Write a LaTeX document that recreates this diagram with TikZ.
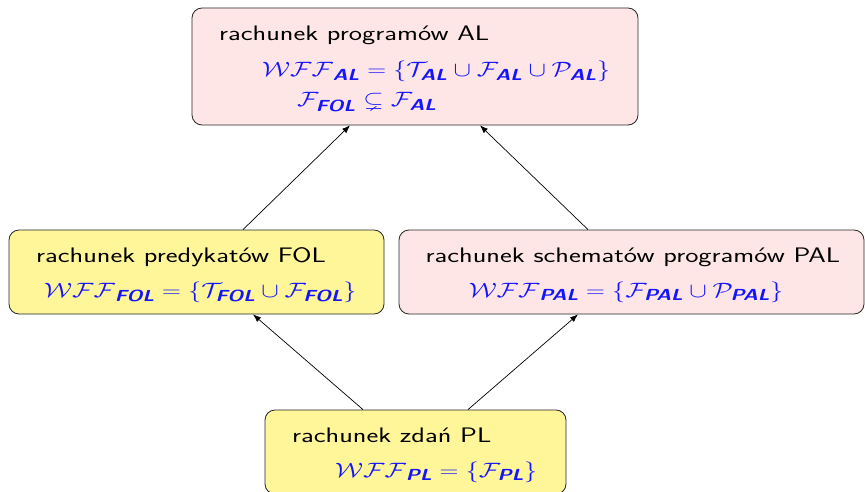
\documentclass[tikz,border=0pt]{standalone}
\usepackage{amsmath,amssymb}
\usepackage{graphicx}
\usetikzlibrary{arrows.meta}
\renewcommand{\familydefault}{\sfdefault}
\definecolor{pinkc}{RGB}{255,230,230}
\definecolor{yellc}{RGB}{255,246,153}
\definecolor{mathc}{RGB}{20,20,255}
\newcommand{\sbs}[1]{\mbox{\fontsize{16}{18}\selectfont\sffamily\bfseries\itshape #1}}
\newcommand{\hs}[1]{\scalebox{1.34}[1]{#1}}
\newcommand{\hm}[1]{\scalebox{1.26}[1]{#1}}
\tikzset{
  box/.style={draw=black!85, line width=0.8pt, rounded corners=10pt, inner sep=0pt},
  txt/.style={anchor=base west, inner sep=0pt, font=\fontsize{21}{25}\selectfont},
  mtxt/.style={anchor=base west, inner sep=0pt, text=mathc, font=\fontsize{20.74}{25}\selectfont},
  conn/.style={-{Latex[length=8pt,width=6pt]}, line width=0.7pt}
}
\begin{document}
\begin{tikzpicture}[x=1pt,y=-1pt]
\useasboundingbox (0,0) rectangle (865,492);
% boxes
\node[box, fill=pinkc, minimum width=446, minimum height=117] (al) at (415,66.5) {};
\node[box, fill=yellc, minimum width=375, minimum height=84] (fol) at (196.5,272) {};
\node[box, fill=pinkc, minimum width=465, minimum height=84] (pal) at (631.5,272) {};
\node[box, fill=yellc, minimum width=301, minimum height=84] (pl) at (415.5,452) {};
% texts
\node[txt] (al1) at (219,41) {\hs{rachunek programów AL}};
\node[mtxt] (al2) at (262,77) {\hm{$\mathcal{WFF}_{\sbs{AL}}=\{\mathcal{T}_{\sbs{AL}}\cup\mathcal{F}_{\sbs{AL}}\cup\mathcal{P}_{\sbs{AL}}\}$}};
\node[mtxt] (al3) at (297,107) {\hm{$\mathcal{F}_{\sbs{FOL}}\subsetneq\mathcal{F}_{\sbs{AL}}$}};
\node[txt] (fol1) at (36,262) {\hs{rachunek predykatów FOL}};
\node[mtxt] (fol2) at (44,297) {\hm{$\mathcal{WFF}_{\sbs{FOL}}=\{\mathcal{T}_{\sbs{FOL}}\cup\mathcal{F}_{\sbs{FOL}}\}$}};
\node[txt, anchor=base] (pal1) at (633,262) {\hs{rachunek schematów programów PAL}};
\node[mtxt, anchor=base] (pal2) at (626,297) {\hm{$\mathcal{WFF}_{\sbs{PAL}}=\{\mathcal{F}_{\sbs{PAL}}\cup\mathcal{P}_{\sbs{PAL}}\}$}};
\node[txt] (pl1) at (292,442) {\hs{rachunek zdań PL}};
\node[mtxt] (pl2) at (335,477) {\hm{$\mathcal{WFF}_{\sbs{PL}}=\{\mathcal{F}_{\sbs{PL}}\}$}};
% connectors
\draw[conn] ([xshift=46.5pt]fol.north) -- ([xshift=-65pt]al.south);
\draw[conn] ([xshift=-43.5pt]pal.north) -- ([xshift=65pt]al.south);
\draw[conn] ([xshift=-52.5pt]pl.north) -- ([xshift=56.5pt]fol.south);
\draw[conn] ([xshift=52.5pt]pl.north) -- ([xshift=-53.5pt]pal.south);
\end{tikzpicture}
\end{document}
